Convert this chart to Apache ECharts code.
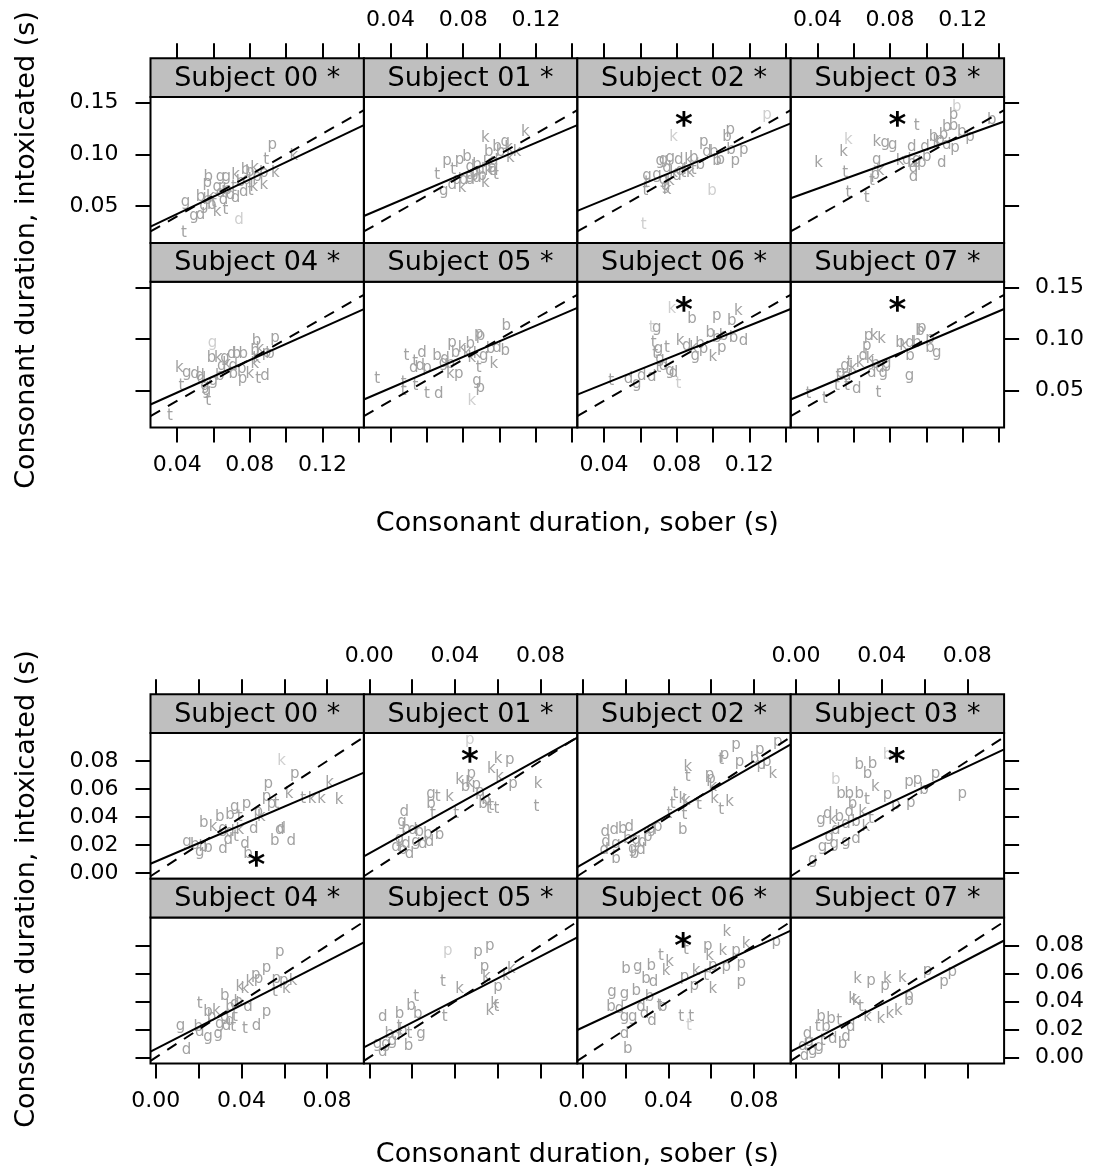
<!DOCTYPE html>
<html><head><meta charset="utf-8">
<script src="https://cdn.jsdelivr.net/npm/echarts@6/dist/echarts.min.js"></script>
<style>html,body{margin:0;padding:0;background:#fff}#c{width:1096px;height:1175px}</style>
</head><body><div id="c"></div>
<script>
// ---------------- data ----------------
const SUBJECTS = ['Subject 00 *','Subject 01 *','Subject 02 *','Subject 03 *','Subject 04 *','Subject 05 *','Subject 06 *','Subject 07 *'];
const X_TITLE = 'Consonant duration, sober (s)';
const Y_TITLE = 'Consonant duration, intoxicated (s)';

// upper lattice
const TOP_X_RANGE = [0.0253, 0.1428];
const TOP_Y_RANGE = [0.0142, 0.1555];
const TOP_X_TICKS = [0.04, 0.06, 0.08, 0.10, 0.12, 0.14];
const TOP_X_LABELS = [0.04, 0.08, 0.12];
const TOP_Y_TICKS = [0.05, 0.10, 0.15];
const TOP_Y_LABELS = [0.05, 0.10, 0.15];
const TOP_FIT = [[0.0300,0.1284],[0.0403,0.1284],[0.0452,0.1300],[0.0575,0.1319],[0.0365,0.1290],[0.0413,0.1302],[0.0461,0.1290],[0.0413,0.1290]];
const TOP_STAR_X = [null,null,0.084,0.084,null,null,0.084,0.084];
const TOP_STAR_Y = [null,null,0.133,0.133,null,null,0.133,0.133];
const TOP_LETTERS = [
 'ptkbggkbkbbkpbddtkkggdktdtbtdbdgkgtbdpbd',
 'kkbbgkkbppbttdbdkbdgdbkddgdkdkdgtk',
 'kppbpppbggdkbdbbbgggttdkdktbgkdtkkgbt',
 'bbbbbtkkkkgggttttkpddkdbgpddbdppbbbkpd',
 'gbpbkgdbbkdgbkpbkkbppktdkgddtggtdgbt',
 'bbppbpbkkkgbdktdbddptgbkpktgpkttttdtd',
 'kbpkbtgtgttkdkbpgkpbbbbdgdgdttdgddt',
 'pbpkkpbkdbpbgbdkbdgdgkgktgdtgttdttt'
];
const TOP_X = [
 [0.0923,0.0890,0.1042,0.0571,0.0639,0.0670,0.0721,0.0776,0.0826,0.0800,0.0877,0.0941,0.0565,0.0528,0.0721,0.0767,0.0804,0.0877,0.0822,0.0446,0.0492,0.0528,0.0620,0.0666,0.0740,0.0437,0.0565,0.0602,0.0639,0.0675,0.0694,0.0547,0.0583,0.0620,0.0712,0.0749,0.0785,0.0840,0.0590,0.0655],
 [0.0922,0.1142,0.0940,0.0986,0.1032,0.1050,0.1096,0.1005,0.0711,0.0780,0.0821,0.0656,0.0744,0.0839,0.0876,0.0894,0.0931,0.0959,0.0968,0.0839,0.0876,0.0904,0.0940,0.0968,0.0803,0.0693,0.0739,0.0793,0.0839,0.0922,0.0766,0.0860,0.0980,0.1060],
 [0.0783,0.1297,0.1095,0.1077,0.0949,0.1169,0.1123,0.1100,0.0728,0.0765,0.0811,0.0866,0.0894,0.0967,0.1004,0.1022,0.1040,0.0710,0.0692,0.0637,0.0628,0.0637,0.0747,0.0783,0.0820,0.0857,0.0894,0.0930,0.0728,0.0765,0.0802,0.0838,0.0875,0.0747,0.0740,0.0995,0.0619],
 [0.1167,0.1149,0.1112,0.1149,0.1360,0.0947,0.0571,0.0544,0.0406,0.0727,0.0773,0.0815,0.0727,0.0553,0.0571,0.0672,0.0700,0.0745,0.0718,0.0920,0.0993,0.0855,0.0892,0.0920,0.0947,0.0975,0.0929,0.0929,0.1002,0.1085,0.1158,0.1240,0.1039,0.1094,0.1195,0.1057,0.1075,0.1112],
 [0.0595,0.0837,0.0938,0.0589,0.0626,0.0663,0.0700,0.0727,0.0764,0.0672,0.0709,0.0645,0.0828,0.0855,0.0892,0.0911,0.0837,0.0828,0.0709,0.0755,0.0760,0.0800,0.0846,0.0883,0.0412,0.0452,0.0498,0.0525,0.0424,0.0553,0.0562,0.0571,0.0534,0.0599,0.0635,0.0360],
 [0.1037,0.1032,0.0885,0.0895,0.0839,0.0738,0.0757,0.0793,0.0821,0.0876,0.0913,0.0950,0.0986,0.0848,0.0487,0.0573,0.0656,0.0527,0.0564,0.0600,0.0535,0.0692,0.0729,0.0729,0.0775,0.0968,0.0885,0.0876,0.0894,0.0848,0.0326,0.0472,0.0537,0.0600,0.0665,0.0472,0.0700],
 [0.0774,0.0884,0.1021,0.1140,0.1104,0.0663,0.0691,0.0673,0.0700,0.0746,0.0682,0.0819,0.0856,0.0893,0.0929,0.0948,0.0902,0.0999,0.1049,0.0985,0.1021,0.1058,0.1113,0.1168,0.0709,0.0728,0.0764,0.0783,0.0700,0.0440,0.0535,0.0581,0.0608,0.0663,0.0810],
 [0.0974,0.0965,0.0681,0.0712,0.0754,0.0672,0.0855,0.0874,0.0910,0.0947,0.1020,0.1020,0.1057,0.0910,0.0653,0.0690,0.0718,0.0745,0.0782,0.0699,0.0763,0.0635,0.0552,0.0598,0.0576,0.0529,0.0562,0.0516,0.0907,0.0507,0.0562,0.0617,0.0736,0.0351,0.0442]
];
const TOP_Y = [
 [0.1090,0.0945,0.0980,0.0784,0.0784,0.0780,0.0800,0.0848,0.0865,0.0830,0.0816,0.0816,0.0720,0.0590,0.0574,0.0639,0.0640,0.0703,0.0687,0.0542,0.0397,0.0413,0.0445,0.0460,0.0365,0.0235,0.0558,0.0526,0.0623,0.0655,0.0606,0.0494,0.0590,0.0687,0.0687,0.0735,0.0752,0.0784,0.0510,0.0560],
 [0.1156,0.1220,0.1026,0.1075,0.1123,0.1060,0.1026,0.1026,0.0936,0.0946,0.0978,0.0801,0.0843,0.0881,0.0897,0.0849,0.0913,0.0865,0.0930,0.0801,0.0768,0.0785,0.0833,0.0833,0.0752,0.0640,0.0704,0.0672,0.0752,0.0720,0.0752,0.0820,0.0800,0.0960],
 [0.1172,0.1381,0.1236,0.1172,0.1123,0.1043,0.0930,0.1040,0.0946,0.0962,0.0946,0.0946,0.0962,0.1026,0.1026,0.0930,0.0946,0.0930,0.0801,0.0785,0.0640,0.0720,0.0865,0.0817,0.0833,0.0849,0.0849,0.0897,0.0752,0.0736,0.0785,0.0817,0.0817,0.0656,0.0690,0.0640,0.0317],
 [0.1460,0.1381,0.1268,0.1275,0.1333,0.1275,0.1139,0.1026,0.0913,0.1123,0.1107,0.1091,0.0946,0.0817,0.0623,0.0575,0.0736,0.0833,0.0801,0.1075,0.1075,0.0930,0.0946,0.0913,0.0946,0.0913,0.0865,0.0784,0.0978,0.0913,0.1059,0.1171,0.1171,0.1188,0.1220,0.1123,0.1140,0.1091],
 [0.0962,0.0978,0.1010,0.0817,0.0817,0.0817,0.0849,0.0849,0.0849,0.0752,0.0736,0.0736,0.0881,0.0897,0.0865,0.0849,0.0801,0.0752,0.0656,0.0704,0.0607,0.0656,0.0607,0.0639,0.0720,0.0672,0.0656,0.0639,0.0543,0.0543,0.0494,0.0397,0.0607,0.0591,0.0639,0.0252],
 [0.1123,0.0881,0.1043,0.1030,0.0946,0.0962,0.0865,0.0910,0.0865,0.0849,0.0833,0.0897,0.0914,0.0817,0.0833,0.0865,0.0833,0.0720,0.0736,0.0720,0.0780,0.0768,0.0752,0.0656,0.0656,0.0752,0.0720,0.0591,0.0527,0.0397,0.0614,0.0575,0.0543,0.0462,0.0462,0.0494,0.0800],
 [0.1285,0.1188,0.1220,0.1268,0.1172,0.1107,0.1107,0.0962,0.0897,0.0914,0.0849,0.0978,0.0930,0.0914,0.0946,0.0897,0.0833,0.0827,0.0914,0.1059,0.1011,0.1027,0.1011,0.0978,0.0801,0.0736,0.0688,0.0672,0.0720,0.0591,0.0607,0.0559,0.0639,0.0633,0.0559],
 [0.1107,0.1080,0.1027,0.1027,0.0994,0.0930,0.0962,0.0930,0.0962,0.0962,0.0994,0.0914,0.0865,0.0833,0.0833,0.0801,0.0752,0.0720,0.0752,0.0672,0.0672,0.0768,0.0736,0.0720,0.0768,0.0672,0.0639,0.0639,0.0639,0.0543,0.0543,0.0511,0.0478,0.0462,0.0414]
];
const TOP_LIGHT = [[24],[],[0,1,35,36],[0,6],[0],[29],[0,5,34],[]];

// lower lattice
const BOT_X_RANGE = [-0.0025, 0.0972];
const BOT_Y_RANGE = [-0.0043, 0.1001];
const BOT_X_TICKS = [0.00, 0.02, 0.04, 0.06, 0.08];
const BOT_X_LABELS = [0.00, 0.04, 0.08];
const BOT_Y_TICKS = [0.00, 0.02, 0.04, 0.06, 0.08];
const BOT_Y_LABELS = [0.00, 0.02, 0.04, 0.06, 0.08];
const BOT_FIT = [[0.0065,0.0717],[0.0117,0.0968],[0.0040,0.0920],[0.0167,0.0884],[0.0041,0.0824],[0.0072,0.0860],[0.0196,0.0908],[0.0041,0.0837]];
const BOT_STAR_X = [0.047,0.047,null,0.047,null,null,0.047,null];
const BOT_STAR_Y = [0.0093,0.0834,null,0.0834,null,null,0.0835,null];
const BOT_LETTERS = [
 'kpkkktkppptkgpbbtpkdddbdbkgddtkdggbbdbb',
 'pkpkkpkpbkpkgtbktbbttttptdgbdbbbgddbdgdd',
 'pptpppbpkpktppkktkttkkttbtpgddbddgbgdbgdbbd',
 'bbbbbbbbtkppppppbpdgkbdbkdbktdgggdgg',
 'ppppkkkppkktpdtbtbddbbkgdtgdtggbgddb',
 'ppppkkkptkktktbtbdbgtbbdgggdtb',
 'ktpkkpkpppppkkkpkptbgbtggbbdbbddtbggdddbttt',
 'kpkpkppppbkktkkkkbbtddtbdbddggdgt'
];
const BOT_X = [
 [0.0587,0.0649,0.0812,0.0856,0.0774,0.0688,0.0730,0.0525,0.0517,0.0540,0.0563,0.0623,0.0369,0.0423,0.0299,0.0346,0.0392,0.0478,0.0493,0.0458,0.0579,0.0586,0.0556,0.0633,0.0224,0.0268,0.0314,0.0346,0.0338,0.0374,0.0392,0.0416,0.0146,0.0205,0.0221,0.0244,0.0314,0.0182,0.0431],
 [0.0469,0.0602,0.0656,0.0570,0.0422,0.0477,0.0469,0.0500,0.0450,0.0609,0.0672,0.0789,0.0289,0.0320,0.0289,0.0375,0.0297,0.0531,0.0545,0.0559,0.0594,0.0570,0.0781,0.0516,0.0406,0.0164,0.0153,0.0172,0.0203,0.0234,0.0273,0.0328,0.0141,0.0172,0.0125,0.0156,0.0188,0.0219,0.0250,0.0281],
 [0.0717,0.0663,0.0647,0.0733,0.0827,0.0912,0.0803,0.0834,0.0889,0.0860,0.0491,0.0491,0.0593,0.0600,0.0608,0.0616,0.0647,0.0686,0.0434,0.0421,0.0468,0.0485,0.0543,0.0476,0.0468,0.0405,0.0351,0.0320,0.0106,0.0148,0.0187,0.0218,0.0109,0.0156,0.0211,0.0250,0.0281,0.0304,0.0234,0.0273,0.0242,0.0156,0.0101],
 [0.0427,0.0357,0.0295,0.0334,0.0186,0.0210,0.0249,0.0295,0.0331,0.0370,0.0427,0.0466,0.0528,0.0567,0.0652,0.0536,0.0598,0.0777,0.0148,0.0117,0.0171,0.0202,0.0249,0.0264,0.0311,0.0233,0.0280,0.0326,0.0350,0.0186,0.0155,0.0179,0.0233,0.0280,0.0124,0.0078],
 [0.0579,0.0517,0.0467,0.0480,0.0392,0.0416,0.0439,0.0563,0.0598,0.0641,0.0610,0.0556,0.0517,0.0470,0.0416,0.0322,0.0205,0.0346,0.0369,0.0431,0.0385,0.0244,0.0283,0.0322,0.0346,0.0369,0.0299,0.0330,0.0361,0.0244,0.0291,0.0198,0.0115,0.0205,0.0143,0.0260],
 [0.0367,0.0508,0.0563,0.0539,0.0547,0.0664,0.0641,0.0602,0.0344,0.0422,0.0563,0.0594,0.0586,0.0352,0.0195,0.0219,0.0227,0.0063,0.0141,0.0242,0.0188,0.0184,0.0094,0.0125,0.0109,0.0039,0.0078,0.0063,0.0141,0.0156],
 [0.0674,0.0483,0.0585,0.0593,0.0655,0.0717,0.0764,0.0905,0.0608,0.0671,0.0741,0.0741,0.0608,0.0406,0.0390,0.0476,0.0530,0.0522,0.0577,0.0203,0.0257,0.0320,0.0366,0.0137,0.0195,0.0250,0.0296,0.0331,0.0312,0.0133,0.0172,0.0273,0.0359,0.0374,0.0195,0.0234,0.0324,0.0289,0.0195,0.0211,0.0460,0.0507,0.0496],
 [0.0287,0.0350,0.0427,0.0416,0.0497,0.0614,0.0691,0.0730,0.0528,0.0528,0.0264,0.0280,0.0303,0.0334,0.0396,0.0438,0.0478,0.0117,0.0163,0.0202,0.0256,0.0054,0.0101,0.0140,0.0171,0.0217,0.0233,0.0039,0.0078,0.0109,0.0031,0.0062,0.0124]
];
const BOT_Y = [
 [0.0800,0.0704,0.0642,0.0523,0.0530,0.0530,0.0530,0.0638,0.0542,0.0494,0.0494,0.0566,0.0470,0.0494,0.0399,0.0411,0.0399,0.0435,0.0399,0.0315,0.0303,0.0315,0.0227,0.0227,0.0356,0.0327,0.0315,0.0291,0.0236,0.0256,0.0303,0.0208,0.0220,0.0148,0.0184,0.0179,0.0172,0.0196,0.0136],
 [0.0948,0.0817,0.0805,0.0745,0.0666,0.0704,0.0642,0.0626,0.0610,0.0685,0.0638,0.0638,0.0566,0.0542,0.0494,0.0542,0.0423,0.0494,0.0520,0.0459,0.0459,0.0480,0.0470,0.0578,0.0423,0.0435,0.0363,0.0315,0.0303,0.0291,0.0279,0.0267,0.0244,0.0208,0.0184,0.0160,0.0136,0.0220,0.0208,0.0220],
 [0.0912,0.0841,0.0805,0.0793,0.0876,0.0936,0.0817,0.0769,0.0709,0.0790,0.0757,0.0685,0.0697,0.0673,0.0614,0.0530,0.0447,0.0506,0.0566,0.0494,0.0530,0.0515,0.0482,0.0411,0.0303,0.0423,0.0327,0.0315,0.0291,0.0303,0.0315,0.0327,0.0220,0.0208,0.0244,0.0232,0.0220,0.0256,0.0172,0.0160,0.0136,0.0100,0.0160],
 [0.0841,0.0781,0.0769,0.0709,0.0661,0.0566,0.0566,0.0566,0.0518,0.0614,0.0554,0.0482,0.0650,0.0661,0.0709,0.0499,0.0590,0.0566,0.0423,0.0380,0.0375,0.0399,0.0435,0.0494,0.0435,0.0351,0.0363,0.0327,0.0387,0.0303,0.0256,0.0208,0.0220,0.0244,0.0184,0.0088],
 [0.0752,0.0640,0.0592,0.0560,0.0501,0.0490,0.0537,0.0561,0.0549,0.0549,0.0490,0.0466,0.0322,0.0227,0.0203,0.0442,0.0382,0.0358,0.0382,0.0358,0.0394,0.0322,0.0334,0.0287,0.0263,0.0287,0.0239,0.0227,0.0215,0.0143,0.0167,0.0215,0.0227,0.0179,0.0053,0.0290],
 [0.0764,0.0752,0.0800,0.0645,0.0573,0.0633,0.0585,0.0501,0.0537,0.0490,0.0334,0.0358,0.0380,0.0287,0.0370,0.0430,0.0310,0.0287,0.0310,0.0167,0.0167,0.0084,0.0167,0.0155,0.0119,0.0096,0.0096,0.0036,0.0215,0.0190],
 [0.0896,0.0769,0.0800,0.0728,0.0764,0.0764,0.0812,0.0824,0.0657,0.0645,0.0669,0.0537,0.0490,0.0681,0.0621,0.0578,0.0621,0.0513,0.0585,0.0633,0.0645,0.0657,0.0728,0.0466,0.0454,0.0478,0.0561,0.0537,0.0430,0.0358,0.0346,0.0358,0.0370,0.0358,0.0287,0.0287,0.0263,0.0310,0.0167,0.0060,0.0287,0.0287,0.0227],
 [0.0561,0.0549,0.0561,0.0513,0.0568,0.0621,0.0537,0.0609,0.0442,0.0406,0.0418,0.0400,0.0358,0.0287,0.0275,0.0310,0.0334,0.0287,0.0275,0.0263,0.0215,0.0167,0.0215,0.0215,0.0131,0.0096,0.0143,0.0012,0.0048,0.0072,0.0084,0.0107,0.0119]
];
const BOT_LIGHT = [[0],[0],[],[0,4],[],[0],[42],[]];

// ---------------- layout & style ----------------
const FONT = 'DejaVu Sans';
const COL_LEFT0 = 150.5, PANEL_W = 213.4, STRIP_H = 38.8, PANEL_H = 145.8;
const LAT_TOP = [58.3, 694.2];
const GRAY = '#a2a2a2', LIGHT = '#cfcfcf', STRIP_FILL = '#bfbfbf';

const lattices = [
 {xr:TOP_X_RANGE, yr:TOP_Y_RANGE, xt:TOP_X_TICKS, xl:TOP_X_LABELS, yt:TOP_Y_TICKS, yl:TOP_Y_LABELS, fit:TOP_FIT, sx:TOP_STAR_X, sy:TOP_STAR_Y, let:TOP_LETTERS, X:TOP_X, Y:TOP_Y, light:TOP_LIGHT},
 {xr:BOT_X_RANGE, yr:BOT_Y_RANGE, xt:BOT_X_TICKS, xl:BOT_X_LABELS, yt:BOT_Y_TICKS, yl:BOT_Y_LABELS, fit:BOT_FIT, sx:BOT_STAR_X, sy:BOT_STAR_Y, let:BOT_LETTERS, X:BOT_X, Y:BOT_Y, light:BOT_LIGHT}
];

const grid = [], xAxis = [], yAxis = [], series = [], graphic = [];
const fmt = v => v.toFixed(2);

lattices.forEach((Lc, L) => {
  for (let r = 0; r < 2; r++) {
    for (let c = 0; c < 4; c++) {
      const s = r * 4 + c;
      const g = grid.length;
      const left = COL_LEFT0 + c * PANEL_W;
      const stripTop = LAT_TOP[L] + r * (STRIP_H + PANEL_H);
      const top = stripTop + STRIP_H;
      grid.push({left, top, width: PANEL_W, height: PANEL_H, show: true, borderColor: '#000', borderWidth: 2,
                 backgroundColor: 'transparent', containLabel: false, outerBoundsMode: 'none'});
      const showXLab = (r === 0 && c % 2 === 1) || (r === 1 && c % 2 === 0);
      xAxis.push({gridIndex: g, type: 'value', min: Lc.xr[0], max: Lc.xr[1],
        position: r === 0 ? 'top' : 'bottom', offset: r === 0 ? STRIP_H : 0,
        axisLine: {show: false, onZero: false}, splitLine: {show: false},
        axisTick: {show: true, inside: false, length: 15, customValues: Lc.xt, lineStyle: {color: '#000', width: 2}},
        axisLabel: {show: showXLab, customValues: Lc.xl, formatter: fmt, margin: 27, fontSize: 22, fontFamily: FONT, color: '#000'}});
      const yOuter = c === 0 || c === 3;
      const showYLab = (c === 0 && r === 0) || (c === 3 && r === 1);
      yAxis.push({gridIndex: g, type: 'value', min: Lc.yr[0], max: Lc.yr[1], show: yOuter,
        position: c === 3 ? 'right' : 'left',
        axisLine: {show: false, onZero: false}, splitLine: {show: false},
        axisTick: {show: yOuter, inside: false, length: 15, customValues: Lc.yt, lineStyle: {color: '#000', width: 2}},
        axisLabel: {show: showYLab, customValues: Lc.yl, formatter: fmt, margin: c === 3 ? 31 : 32, fontSize: 22, fontFamily: FONT, color: '#000'}});

      const letters = Lc.let[s], lightSet = Lc.light[s];
      series.push({type: 'custom', xAxisIndex: g, yAxisIndex: g, clip: true, silent: true, z: 2,
        data: Lc.X[s].map((x, i) => [x, Lc.Y[s][i], i]),
        encode: {x: 0, y: 1},
        renderItem: (params, api) => {
          const p = api.coord([api.value(0), api.value(1)]);
          const i = api.value(2);
          return {type: 'text', x: p[0], y: p[1], style: {text: letters[i], fill: lightSet.includes(i) ? LIGHT : GRAY,
            font: '15px ' + FONT, align: 'center', verticalAlign: 'middle', textAlign: 'center', textVerticalAlign: 'middle'}};
        }});
      series.push({type: 'line', xAxisIndex: g, yAxisIndex: g, silent: true, symbol: 'none', z: 5,
        data: [[Lc.xr[0], Lc.fit[s][0]], [Lc.xr[1], Lc.fit[s][1]]], lineStyle: {color: '#000', width: 2}});
      series.push({type: 'line', xAxisIndex: g, yAxisIndex: g, silent: true, symbol: 'none', z: 5,
        data: [[Lc.xr[0], Lc.xr[0]], [Lc.xr[1], Lc.xr[1]]], lineStyle: {color: '#000', width: 2, type: [11, 9]}});
      if (Lc.sx[s] !== null) {
        series.push({type: 'custom', xAxisIndex: g, yAxisIndex: g, silent: true, z: 6,
          data: [[Lc.sx[s], Lc.sy[s]]], encode: {x: 0, y: 1},
          renderItem: (params, api) => {
            const p = api.coord([api.value(0), api.value(1)]);
            return {type: 'text', x: p[0], y: p[1] + 7, style: {text: '*', fill: '#000', font: 'bold 34px ' + FONT,
              align: 'center', verticalAlign: 'middle', textAlign: 'center', textVerticalAlign: 'middle'}};
          }});
      }
      graphic.push({type: 'rect', z: 100, shape: {x: left, y: stripTop, width: PANEL_W, height: STRIP_H},
        style: {fill: STRIP_FILL, stroke: '#000', lineWidth: 2}});
      graphic.push({type: 'text', z: 101, x: left + PANEL_W / 2, y: stripTop + STRIP_H / 2 + 1,
        style: {text: SUBJECTS[s], font: '27px ' + FONT, fill: '#000', align: 'center', verticalAlign: 'middle', textAlign: 'center', textVerticalAlign: 'middle'}});
    }
  }
  const panelsCx = COL_LEFT0 + 2 * PANEL_W;
  graphic.push({type: 'text', z: 101, x: panelsCx, y: L === 0 ? 524 : 1155,
    style: {text: X_TITLE, font: '27px ' + FONT, fill: '#000', align: 'center', verticalAlign: 'middle', textAlign: 'center', textVerticalAlign: 'middle'}});
  graphic.push({type: 'text', z: 101, x: 27, y: L === 0 ? 250 : 889, rotation: Math.PI / 2,
    style: {text: Y_TITLE, font: '27px ' + FONT, fill: '#000', align: 'center', verticalAlign: 'middle', textAlign: 'center', textVerticalAlign: 'middle'}});
});

const chart = echarts.init(document.getElementById('c'), null, {renderer: 'canvas'});
chart.setOption({backgroundColor: '#fff', animation: false, textStyle: {fontFamily: FONT},
  grid, xAxis, yAxis, series, graphic});
</script>
</body></html>
